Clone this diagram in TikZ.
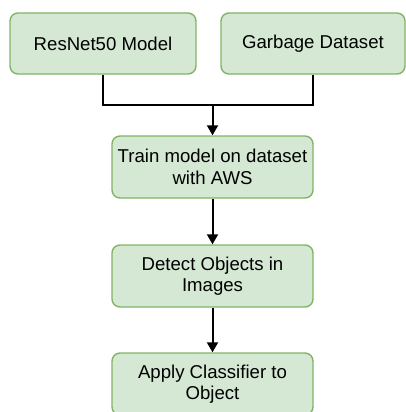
\documentclass[tikz,border=0pt]{standalone}
\usepackage{fontspec}
\setmainfont{Liberation Sans}
\usetikzlibrary{arrows.meta}
\definecolor{boxfill}{HTML}{D5E8D4}
\definecolor{boxline}{HTML}{82B366}
\begin{document}
\begin{tikzpicture}[x=1pt,y=-1pt,
  flowbox/.style={draw=boxline, fill=boxfill, line width=1.4pt, rounded corners=8pt,
    align=center, font=\fontsize{18.6}{21.5}\selectfont, inner sep=0pt},
  link/.style={draw=black, line width=2pt},
  arr/.style={link, -{Triangle[length=10pt,width=11pt]}}]
  \useasboundingbox (0,0) rectangle (405,412);
  \node[flowbox, minimum width=186pt, minimum height=61pt] (resnet) at (103,43.5) {ResNet50 Model};
  \node[flowbox, minimum width=184pt, minimum height=61pt] (garbage) at (313,43.5) {Garbage Dataset};
  \node[flowbox, minimum width=201pt, minimum height=62pt] (train) at (212.5,167) {Train model on dataset\\with AWS};
  \node[flowbox, minimum width=201pt, minimum height=62pt] (detect) at (212.5,276) {Detect Objects in\\Images};
  \node[flowbox, minimum width=201pt, minimum height=62pt] (apply) at (212.5,384) {Apply Classifier to\\Object};
  \coordinate (join) at (212.5,105);
  \draw[link] (resnet.south) |- (join) -| (garbage.south);
  \draw[arr] (join) -- (train.north);
  \draw[arr] (train.south) -- (detect.north);
  \draw[arr] (detect.south) -- (apply.north);
\end{tikzpicture}
\end{document}
